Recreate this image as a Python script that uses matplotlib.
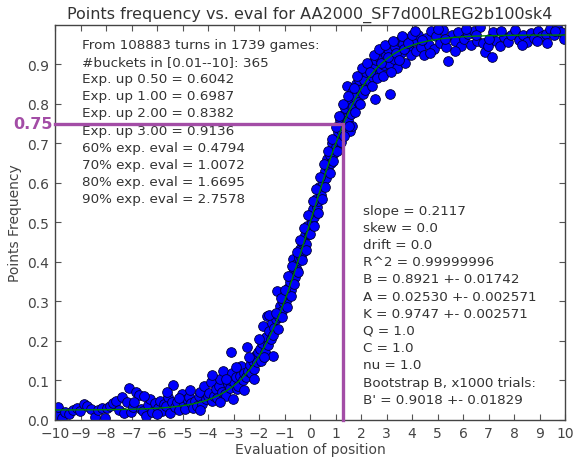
import numpy as np
import matplotlib
matplotlib.use("Agg")
import matplotlib.pyplot as plt
import matplotlib.transforms as mtransforms

bucket_eval = [
    -9.95, -9.87, -9.72, -9.60, -9.45, -9.30, -9.15, -9.02, -8.88, -8.76, -8.60, -8.45, -8.30, -8.17, -8.05,
    -7.95, -7.84, -7.72, -7.60, -7.50, -7.38, -7.28, -7.19, -7.10, -7.03, -6.93, -6.82, -6.72, -6.62, -6.54,
    -6.45, -6.36, -6.27, -6.18, -6.08,
    -5.98, -5.90, -5.82, -5.74, -5.66, -5.58, -5.50, -5.42, -5.36, -5.28, -5.20, -5.12, -5.04, -4.96, -4.90,
    -4.82, -4.74, -4.66, -4.58, -4.50, -4.44, -4.36, -4.30, -4.22, -4.16, -4.08, -4.02,
    -3.96, -3.90, -3.83, -3.76, -3.70, -3.64, -3.58, -3.52, -3.46, -3.40, -3.34, -3.28, -3.22, -3.15, -3.12,
    -3.08, -3.05, -3.02,
    -2.97, -2.92, -2.86, -2.81, -2.75, -2.69, -2.64, -2.58, -2.53, -2.48, -2.42, -2.36, -2.30, -2.25, -2.19,
    -2.13, -2.08, -2.03,
    -1.97, -1.92, -1.87, -1.83, -1.78, -1.73, -1.70, -1.64, -1.59, -1.53, -1.48, -1.44, -1.40, -1.34, -1.29,
    -1.23, -1.17, -1.11, -1.05,
    -0.98, -0.93, -0.88, -0.83, -0.78, -0.73, -0.68, -0.65, -0.60, -0.55, -0.50, -0.45, -0.40, -0.35, -0.30,
    -0.25, -0.20, -0.15, -0.10, -0.05,
    0.02, 0.07, 0.12, 0.17, 0.22, 0.27, 0.32, 0.37, 0.42, 0.47, 0.52, 0.57, 0.62, 0.67, 0.72,
    0.77, 0.82, 0.87, 0.92, 0.97,
    1.03, 1.08, 1.13, 1.18, 1.23, 1.28, 1.33, 1.38, 1.42, 1.44, 1.49, 1.54, 1.58, 1.60, 1.65,
    1.66, 1.70, 1.76, 1.81, 1.87, 1.92, 1.97,
    2.02, 2.07, 2.12, 2.18, 2.23, 2.28, 2.34, 2.40, 2.45, 2.50, 2.55, 2.60, 2.66, 2.72, 2.78,
    2.84, 2.90, 2.96,
    3.04, 3.10, 3.14, 3.20, 3.28, 3.35, 3.42, 3.50, 3.58, 3.65, 3.72, 3.80, 3.88, 3.95,
    4.05, 4.15, 4.25, 4.35, 4.45, 4.55, 4.65, 4.75, 4.85, 4.95, 5.08, 5.20, 5.32, 5.42, 5.55,
    5.68, 5.80, 5.92,
    6.05, 6.18, 6.30, 6.42, 6.55, 6.67, 6.78, 6.86, 6.99, 7.12, 7.19, 7.30, 7.45, 7.60, 7.75, 7.90,
    8.05, 8.20, 8.35, 8.50, 8.65, 8.80, 8.95, 9.10, 9.25, 9.40, 9.55, 9.70, 9.85, 9.94,
    # second layer of buckets (the band is several markers thick)
    -6.90, -6.50, -6.00, -5.60, -5.15, -4.70, -4.30, -3.85, -3.55, -3.30, -2.90, -2.60, -2.40, -2.20, -2.00,
    -1.80, -1.60,
    -1.45, -1.35, -1.25, -1.15, -1.08, -1.00, -0.92, -0.85, -0.76, -0.70, -0.62, -0.52, -0.46, -0.38, -0.32,
    -0.22, -0.16, -0.08, 0.00, 0.10, 0.15, 0.25, 0.30, 0.40, 0.45, 0.55, 0.60, 0.70, 0.78, 0.85,
    0.90, 1.00, 1.06, 1.15, 1.22, 1.30, 1.35, 1.48, 1.52,
    1.72, 1.78, 1.85, 1.95, 2.05, 2.15, 2.25, 2.35, 2.42, 2.50, 2.62, 2.70, 2.80, 2.88, 2.95,
    3.05, 3.18, 3.25, 3.38, 3.48, 3.60, 3.70, 3.85, 3.98,
    4.10, 4.40, 4.70, 5.00, 5.30, 5.70, 6.10, 6.50, 7.00, 7.50, 8.30, 8.90, 9.30, 9.60,
]
bucket_freq = [
    0.012, 0.033, 0.004, 0.020, 0.015, 0.026, 0.030, 0.022, 0.040, 0.035, 0.028, 0.008, 0.025, 0.031, 0.006,
    0.030, 0.036, 0.042, 0.049, 0.025, 0.057, 0.018, 0.045, 0.080, 0.020, 0.032, 0.070, 0.064, 0.028, 0.024,
    0.011, 0.038, 0.053, 0.021, 0.043,
    0.030, 0.049, 0.022, 0.040, 0.036, 0.057, 0.018, 0.046, 0.088, 0.034, 0.045, 0.026, 0.066, 0.040, 0.028,
    0.052, 0.057, 0.044, 0.030, 0.048, 0.036, 0.062, 0.070, 0.040, 0.087, 0.053, 0.060,
    0.068, 0.095, 0.048, 0.062, 0.078, 0.055, 0.085, 0.104, 0.072, 0.125, 0.066, 0.060, 0.090, 0.080, 0.100,
    0.171, 0.120, 0.053,
    0.095, 0.110, 0.078, 0.087, 0.112, 0.137, 0.100, 0.120, 0.108, 0.186, 0.125, 0.140, 0.118, 0.150, 0.130,
    0.165, 0.148, 0.172,
    0.180, 0.150, 0.195, 0.239, 0.172, 0.210, 0.264, 0.190, 0.225, 0.205, 0.245, 0.163, 0.232, 0.255, 0.327,
    0.262, 0.289, 0.275, 0.298,
    0.320, 0.300, 0.335, 0.318, 0.350, 0.330, 0.372, 0.408, 0.362, 0.395, 0.380, 0.410, 0.432, 0.412, 0.450,
    0.428, 0.468, 0.445, 0.492, 0.470,
    0.512, 0.498, 0.535, 0.515, 0.560, 0.540, 0.555, 0.590, 0.570, 0.612, 0.598, 0.630, 0.612, 0.660, 0.640,
    0.672, 0.650, 0.700, 0.676, 0.712,
    0.690, 0.730, 0.705, 0.760, 0.735, 0.772, 0.745, 0.790, 0.765, 0.846, 0.760, 0.800, 0.732, 0.775, 0.830,
    0.745, 0.795, 0.818, 0.850, 0.805, 0.860, 0.835,
    0.872, 0.825, 0.860, 0.880, 0.842, 0.895, 0.855, 0.905, 0.868, 0.890, 0.813, 0.912, 0.875, 0.920, 0.885,
    0.935, 0.898, 0.925,
    0.940, 0.900, 0.825, 0.955, 0.915, 0.945, 0.890, 0.960, 0.930, 0.952, 0.905, 0.965, 0.940, 0.925,
    0.960, 0.935, 0.975, 0.945, 0.925, 0.968, 0.950, 0.985, 0.940, 0.972, 0.955, 0.988, 0.945, 0.910, 0.975,
    0.960, 0.982, 0.948,
    0.965, 0.978, 0.950, 0.985, 0.960, 0.994, 0.955, 0.931, 0.946, 0.918, 0.981, 0.960, 0.948, 0.970, 0.958, 0.975,
    0.988, 0.962, 0.975, 0.958, 0.980, 0.968, 0.985, 0.972, 0.978, 0.990, 0.975, 0.994, 0.982, 0.965,
    # second layer
    0.045, 0.060, 0.015, 0.070, 0.055, 0.075, 0.025, 0.115, 0.045, 0.105, 0.135, 0.075, 0.160, 0.105, 0.205,
    0.160, 0.265,
    0.215, 0.270, 0.230, 0.310, 0.260, 0.330, 0.285, 0.365, 0.315, 0.390, 0.345, 0.425, 0.375, 0.455, 0.405,
    0.485, 0.430, 0.520, 0.470, 0.555, 0.490, 0.585, 0.525, 0.615, 0.560, 0.648, 0.590, 0.680, 0.625, 0.712,
    0.655, 0.742, 0.680, 0.770, 0.705, 0.800, 0.720, 0.820, 0.745,
    0.840, 0.780, 0.870, 0.800, 0.890, 0.835, 0.905, 0.880, 0.845, 0.925, 0.865, 0.940, 0.905, 0.870, 0.950,
    0.920, 0.880, 0.960, 0.930, 0.912, 0.972, 0.940, 0.955, 0.975,
    0.985, 0.962, 0.930, 0.990, 0.965, 0.935, 0.990, 0.975, 0.965, 0.985, 0.950, 0.960, 0.955, 0.985,
]

# fitted generalised logistic, parameters as printed on the chart
fit_A = 0.02530
fit_K = 0.9747
fit_B = 0.8921
fit_C = 1.0
fit_Q = 1.0
fit_nu = 1.0

cut_freq = 0.75
cut_eval = 1.31

title = "Points frequency vs. eval for AA2000_SF7d00LREG2b100sk4"
left_notes = [
    "From 108883 turns in 1739 games:",
    "#buckets in [0.01--10]: 365",
    "Exp. up 0.50 = 0.6042",
    "Exp. up 1.00 = 0.6987",
    "Exp. up 2.00 = 0.8382",
    "Exp. up 3.00 = 0.9136",
    "60% exp. eval = 0.4794",
    "70% exp. eval = 1.0072",
    "80% exp. eval = 1.6695",
    "90% exp. eval = 2.7578",
]
right_notes = [
    "slope = 0.2117",
    "skew = 0.0",
    "drift = 0.0",
    "R^2 = 0.99999996",
    "B = 0.8921 +- 0.01742",
    "A = 0.02530 +- 0.002571",
    "K = 0.9747 +- 0.002571",
    "Q = 1.0",
    "C = 1.0",
    "nu = 1.0",
    "Bootstrap B, x1000 trials:",
    "B' = 0.9018 +- 0.01829",
]

text_col = "#333333"
purple = "#a34da6"

fig = plt.figure(figsize=(5.75, 4.6), dpi=100)
ax = fig.add_axes([0.0957, 0.0848, 0.887, 0.8587])

ax.plot(bucket_eval, bucket_freq, "o", color="#0000ff", markersize=7,
        markeredgecolor="#000033", markeredgewidth=0.6, zorder=2)

xs = np.linspace(-10, 10, 400)
fit = fit_A + (fit_K - fit_A) / (fit_C + fit_Q * np.exp(-fit_B * xs)) ** (1.0 / fit_nu)
ax.plot(xs, fit, "-", color=(0, 0.5, 0), linewidth=1.0, zorder=3)

# purple guide for 75%
ax.plot([-10, cut_eval, cut_eval], [cut_freq, cut_freq, 0], color=purple,
        linewidth=2.4, zorder=4, clip_on=False, solid_joinstyle="miter")
trans = mtransforms.blended_transform_factory(ax.transAxes, ax.transData)
ax.text(-0.004, cut_freq, "0.75", transform=trans, ha="right", va="center",
        color=purple, fontsize=11.5, fontweight="bold")

ax.set_xlim(-10, 10)
ax.set_ylim(0, 1.0)
ax.set_xticks(range(-10, 11))
ax.set_yticks([0.0, 0.1, 0.2, 0.3, 0.4, 0.5, 0.6, 0.7, 0.8, 0.9])
ax.set_yticklabels(["0.0", "0.1", "0.2", "0.3", "0.4", "0.5", "0.6", "0.7", "0.8", "0.9"])
ax.tick_params(direction="in", top=True, right=True, length=4, width=0.8,
               labelsize=10, labelcolor="#444444", color="#555555", pad=4)
for s in ax.spines.values():
    s.set_color("#444444")
    s.set_linewidth(1.0)

ax.set_title(title, fontsize=11.5, color=text_col, pad=5)
ax.set_xlabel("Evaluation of position", fontsize=10, color="#444444", labelpad=2)
ax.set_ylabel("Points Frequency", fontsize=10, color="#444444", labelpad=4)

ax.text(0.053, 0.968, "\n".join(left_notes), transform=ax.transAxes, ha="left", va="top",
        fontsize=9.7, color=text_col, linespacing=1.42)
ax.text(0.604, 0.548, "\n".join(right_notes), transform=ax.transAxes, ha="left", va="top",
        fontsize=9.7, color=text_col, linespacing=1.42)

fig.savefig("out.png", dpi=100)
